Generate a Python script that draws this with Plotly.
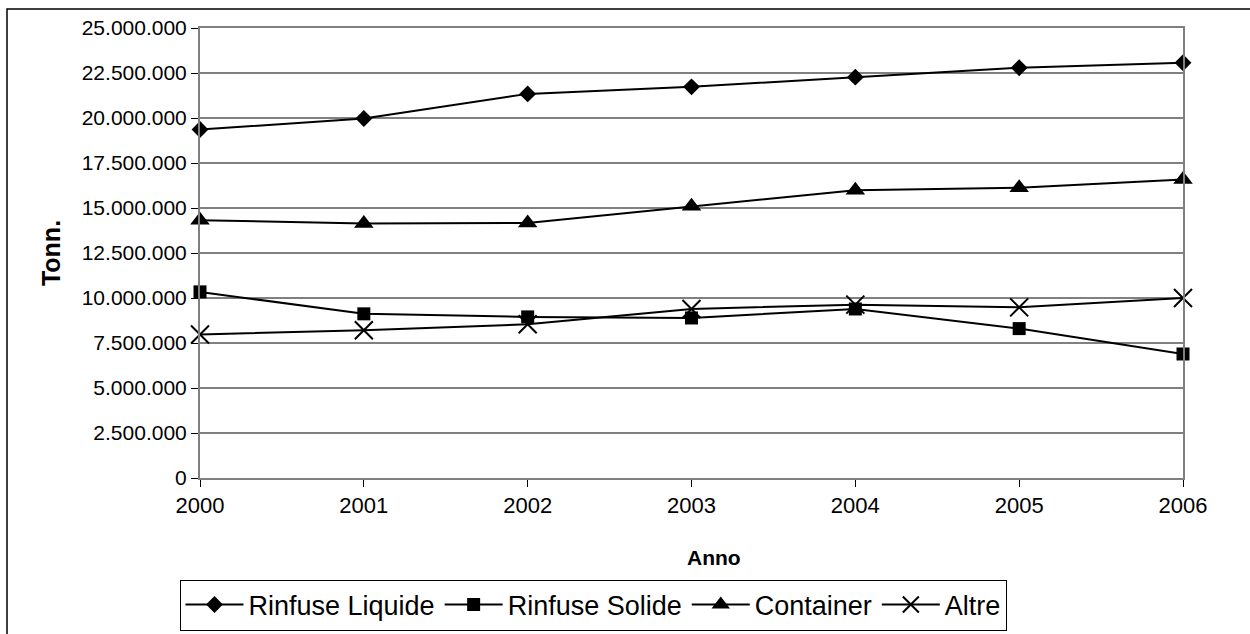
import plotly.graph_objects as go

years = [2000, 2001, 2002, 2003, 2004, 2005, 2006]
rinfuse_liquide = [19360000, 19970000, 21340000, 21730000, 22270000, 22790000, 23070000]
rinfuse_solide = [10340000, 9120000, 8950000, 8890000, 9390000, 8300000, 6890000]
container = [14320000, 14140000, 14170000, 15100000, 15990000, 16120000, 16580000]
altre = [7970000, 8210000, 8540000, 9390000, 9630000, 9480000, 10000000]
y_ticks = [0, 2500000, 5000000, 7500000, 10000000, 12500000, 15000000, 17500000, 20000000, 22500000, 25000000]

FONT = "Liberation Sans, Arial, sans-serif"

fig = go.Figure()
series = [
    ("Rinfuse Liquide", rinfuse_liquide, dict(symbol="diamond", size=13, color="black")),
    ("Rinfuse Solide", rinfuse_solide, dict(symbol="square", size=13, color="black")),
    ("Container", container, dict(symbol="triangle-up", size=17, color="black")),
    ("Altre", altre, dict(symbol="x-thin-open", size=18, color="black", line=dict(width=2, color="black"))),
]
for name, vals, mk in series:
    fig.add_trace(go.Scatter(x=years, y=vals, name=name, mode="lines+markers",
                             line=dict(color="black", width=2), marker=mk, cliponaxis=False))

W, H = 1250, 634
L, R, T, B = 200, 67, 28, 156
pw, ph = W - L - R, H - T - B

def px_x(x):
    return (x - L) / pw

def px_y(y):
    return (H - B - y) / ph

fig.update_layout(
    width=W, height=H,
    margin=dict(l=L, r=R, t=T, b=B, autoexpand=False),
    paper_bgcolor="white", plot_bgcolor="white",
    separators=",.",
    font=dict(family=FONT, color="black", size=20),
    showlegend=True,
    legend=dict(orientation="h", x=px_x(593), xanchor="center", y=px_y(605), yanchor="middle",
                bordercolor="black", borderwidth=1, bgcolor="white",
                font=dict(size=27, family=FONT, color="black"),
                itemwidth=58, tracegroupgap=0),
    xaxis=dict(range=[2000, 2006], tickvals=years, ticktext=[str(y) for y in years],
               ticks="outside", ticklen=7, tickcolor="black", tickwidth=1,
               showline=True, linecolor="#808080", linewidth=2, mirror=True,
               showgrid=False, zeroline=False,
               tickfont=dict(size=22, family=FONT, color="black")),
    yaxis=dict(range=[0, 25000000], tickvals=y_ticks, tickformat=",d",
               ticks="outside", ticklen=7, tickcolor="black", tickwidth=1,
               showline=True, linecolor="#808080", linewidth=2, mirror=True,
               showgrid=True, gridcolor="#808080", gridwidth=1.5, zeroline=False,
               tickfont=dict(size=21, family=FONT, color="black"),
               title=dict(text="<b>Tonn.</b>", font=dict(size=25, family=FONT, color="black"),
                          standoff=14)),
    annotations=[dict(text="<b>Anno</b>", xref="paper", yref="paper",
                      x=px_x(713.5), y=px_y(557), xanchor="center", yanchor="middle",
                      showarrow=False, font=dict(size=21, family=FONT, color="black"))],
    shapes=[dict(type="rect", xref="paper", yref="paper",
                 x0=px_x(7), x1=px_x(1300), y0=px_y(700), y1=px_y(9),
                 line=dict(color="black", width=1.5), fillcolor="rgba(0,0,0,0)", layer="below")],
)

fig.write_html("out.html")
